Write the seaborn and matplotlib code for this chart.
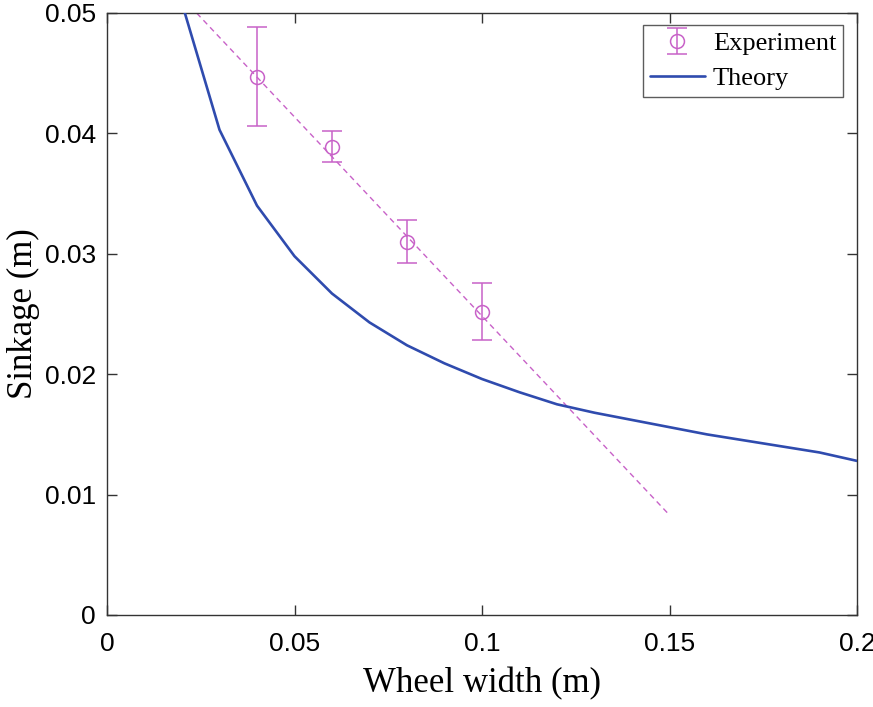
import matplotlib
matplotlib.use("Agg")
import matplotlib.pyplot as plt
import seaborn as sns
import pandas as pd

# Data
exp_width = [0.04, 0.06, 0.08, 0.10]
exp_sinkage = [0.0447, 0.0389, 0.0310, 0.0252]
exp_err = [0.0041, 0.0013, 0.0018, 0.0024]

fit_width = [0.0, 0.15]
fit_sinkage = [0.0579, 0.0083]

theory_width = [0.02, 0.03, 0.04, 0.05, 0.06, 0.07, 0.08, 0.09, 0.10, 0.11,
                0.12, 0.13, 0.14, 0.15, 0.16, 0.17, 0.18, 0.19, 0.20]
theory_sinkage = [0.0508, 0.0403, 0.0340, 0.0298, 0.0267, 0.0243, 0.0224, 0.0209, 0.0196, 0.0185,
                  0.0175, 0.0168, 0.0162, 0.0156, 0.0150, 0.0145, 0.0140, 0.0135, 0.0128]

x_ticks = [0, 0.05, 0.1, 0.15, 0.2]
x_ticklabels = ["0", "0.05", "0.1", "0.15", "0.2"]
y_ticks = [0, 0.01, 0.02, 0.03, 0.04, 0.05]
y_ticklabels = ["0", "0.01", "0.02", "0.03", "0.04", "0.05"]

sns.set_theme(style="ticks")
plt.rcParams["font.family"] = ["Liberation Serif", "DejaVu Sans"]
plt.rcParams["text.color"] = "black"
plt.rcParams["axes.labelcolor"] = "black"

blue = "#2F4BAE"
mag = "#C862C8"
axcol = "#333333"

fig = plt.figure(figsize=(8.73, 7.07), dpi=100)
ax = fig.add_axes([107 / 873, 92 / 707, 750 / 873, 602 / 707])

theory_df = pd.DataFrame({"w": theory_width, "s": theory_sinkage})
fit_df = pd.DataFrame({"w": fit_width, "s": fit_sinkage})

sns.lineplot(data=fit_df, x="w", y="s", ax=ax, color=mag, lw=1.0,
             linestyle=(0, (4, 3)), legend=False, zorder=2)
sns.lineplot(data=theory_df, x="w", y="s", ax=ax, color=blue, lw=1.9,
             legend=False, zorder=3)
eb = ax.errorbar(exp_width, exp_sinkage, yerr=exp_err, fmt="o", mfc="none",
                 mec=mag, ecolor=mag, ms=10, mew=1.1, elinewidth=1.1,
                 capsize=7, capthick=1.1, zorder=4)

theory_handle = ax.lines[1]

ax.set_xlim(0, 0.2)
ax.set_ylim(0, 0.05)
ax.set_xticks(x_ticks)
ax.set_xticklabels(x_ticklabels, fontfamily="Liberation Sans", fontsize=19)
ax.set_yticks(y_ticks)
ax.set_yticklabels(y_ticklabels, fontfamily="Liberation Sans", fontsize=19)

ax.tick_params(direction="in", length=7, width=1.0, color=axcol, top=True, right=True,
               labelcolor="black")
ax.tick_params(axis="x", pad=12)
ax.tick_params(axis="y", pad=8)
for sp in ax.spines.values():
    sp.set_visible(True)
    sp.set_color(axcol)
    sp.set_linewidth(1.0)

ax.set_xlabel("Wheel width (m)", fontsize=25, fontfamily="Liberation Serif", labelpad=8, color="black")
ax.set_ylabel("Sinkage (m)", fontsize=25, fontfamily="Liberation Serif", labelpad=3, color="black")

leg = ax.legend([eb, theory_handle], ["Experiment", "Theory"], loc="upper right",
                bbox_to_anchor=(843 / 873, 1 - 25 / 707), bbox_transform=fig.transFigure,
                prop={"family": "Liberation Serif", "size": 19}, frameon=True, fancybox=False,
                handlelength=2.1, handletextpad=0.3, borderpad=0.25, labelspacing=0.45,
                borderaxespad=0)
leg.get_frame().set_edgecolor(axcol)
leg.get_frame().set_linewidth(1.0)
for t in leg.get_texts():
    t.set_color("black")

fig.savefig("out.png", dpi=100)
